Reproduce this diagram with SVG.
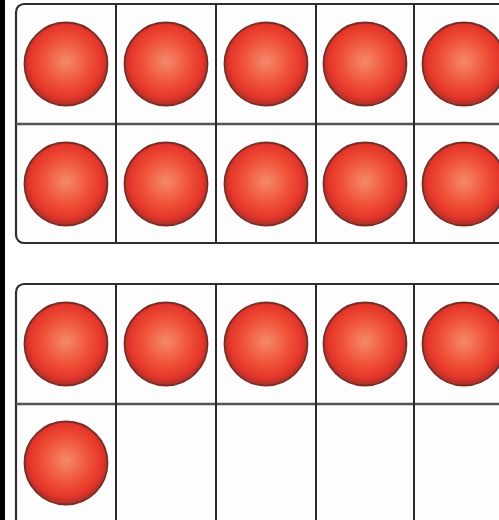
<svg xmlns="http://www.w3.org/2000/svg" width="499" height="520" viewBox="0 0 499 520">
<defs>
<radialGradient id="ball" cx="0.5" cy="0.47" r="0.5">
<stop offset="0" stop-color="#f58a6c"/>
<stop offset="0.55" stop-color="#ef5238"/>
<stop offset="0.88" stop-color="#e5352a"/>
<stop offset="1" stop-color="#b8322a"/>
</radialGradient>
<symbol id="counter" overflow="visible">
<circle cx="0" cy="0" r="41.5" fill="url(#ball)" stroke="#7c2c24" stroke-width="1.8"/>
</symbol>
</defs>
<style>
.frame{fill:#fdfdfd;stroke:#2e2e2e;stroke-width:2.2}
.vline{stroke:#2a2a2a;stroke-width:2}
.hline{stroke:#555;stroke-width:2.6}
</style>
<rect x="0" y="0" width="499" height="520" fill="#fff"/>
<rect x="0" y="0" width="5" height="520" fill="#000"/>
<g id="frame-top">
<rect class="frame" x="16" y="4" width="520" height="239" rx="8"/>
<line class="hline" x1="16" y1="124" x2="499" y2="124"/>
<line class="vline" x1="116" y1="4" x2="116" y2="243"/>
<line class="vline" x1="216" y1="4" x2="216" y2="243"/>
<line class="vline" x1="316" y1="4" x2="316" y2="243"/>
<line class="vline" x1="414" y1="4" x2="414" y2="243"/>
</g>
<g id="frame-bottom">
<rect class="frame" x="16" y="284" width="520" height="250" rx="8"/>
<line class="hline" x1="16" y1="404" x2="499" y2="404"/>
<line class="vline" x1="116" y1="284" x2="116" y2="520"/>
<line class="vline" x1="216" y1="284" x2="216" y2="520"/>
<line class="vline" x1="316" y1="284" x2="316" y2="520"/>
<line class="vline" x1="414" y1="284" x2="414" y2="520"/>
</g>
<g id="connectors"/>
<g id="c1"><use href="#counter" x="66" y="64"/></g>
<g id="c2"><use href="#counter" x="166" y="64"/></g>
<g id="c3"><use href="#counter" x="266" y="64"/></g>
<g id="c4"><use href="#counter" x="365" y="64"/></g>
<g id="c5"><use href="#counter" x="464" y="64"/></g>
<g id="c6"><use href="#counter" x="66" y="184"/></g>
<g id="c7"><use href="#counter" x="166" y="184"/></g>
<g id="c8"><use href="#counter" x="266" y="184"/></g>
<g id="c9"><use href="#counter" x="365" y="184"/></g>
<g id="c10"><use href="#counter" x="464" y="184"/></g>
<g id="c11"><use href="#counter" x="66" y="344"/></g>
<g id="c12"><use href="#counter" x="166" y="344"/></g>
<g id="c13"><use href="#counter" x="266" y="344"/></g>
<g id="c14"><use href="#counter" x="365" y="344"/></g>
<g id="c15"><use href="#counter" x="464" y="344"/></g>
<g id="c16"><use href="#counter" x="66" y="463"/></g>
</svg>
